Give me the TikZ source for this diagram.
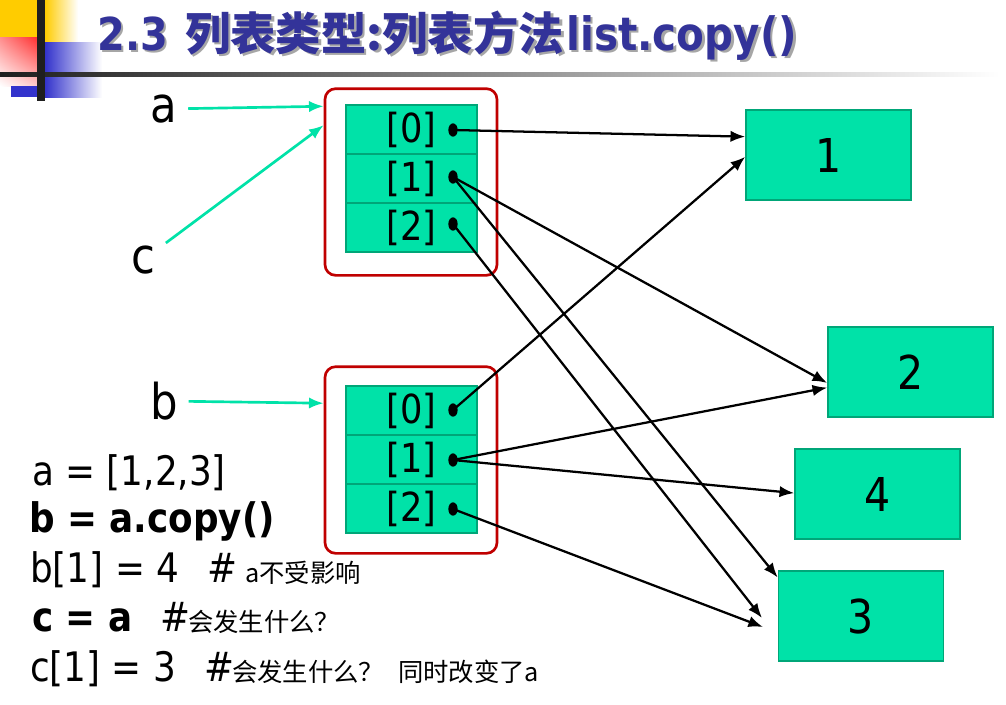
\documentclass[tikz,border=0pt]{standalone}
\usepackage{fontspec}
\setmainfont{DejaVu Sans}[FakeStretch=0.88]
\newfontfamily\cjk{Noto Sans CJK SC}
\usetikzlibrary{shapes.geometric,arrows.meta,calc,shadings}
\definecolor{titleblue}{HTML}{333399}
\definecolor{decoyellow}{HTML}{FFCC00}
\definecolor{decored}{HTML}{FF3030}
\definecolor{decoblue}{HTML}{3333CC}
\definecolor{cellgreen}{HTML}{00E2A8}
\definecolor{cellborder}{HTML}{00A678}
\definecolor{boxred}{HTML}{C00000}
\newcommand{\shadowtext}[1]{\makebox[0pt][l]{\hspace{1.9pt}\raisebox{-1.9pt}{\textcolor{black!35}{#1}}}#1}
\begin{document}
\begin{tikzpicture}[x=0.75pt,y=-0.75pt,
  cell/.style={draw=cellborder, line width=1pt, fill=cellgreen, minimum width=98.25pt, minimum height=36.75pt, inner sep=0pt, font=\fontsize{30}{30}\selectfont},
  listbox/.style={draw=boxred, line width=2pt, rounded corners=8pt, minimum width=129pt, minimum height=140pt, inner sep=0pt},
  valbox/.style={draw=cellborder, line width=1.2pt, fill=cellgreen, minimum width=123.75pt, minimum height=67.5pt, inner sep=0pt, font=\fontsize{35}{35}\selectfont},
  dot/.style={ellipse, fill=black, minimum width=7pt, minimum height=10pt, inner sep=0pt},
  ptr/.style={line width=1.7pt, -{Latex[length=11pt,width=8.5pt]}},
  gptr/.style={draw=cellgreen, line width=2pt, -{Latex[length=11pt,width=8.5pt]}},
  varlab/.style={font=\fontsize{37}{37}\selectfont, inner sep=8pt},
  code/.style={font=\fontsize{30.5}{34}\selectfont, inner sep=0pt, anchor=base west},
  codeb/.style={font=\fontsize{30.5}{34}\selectfont\bfseries, inner sep=0pt, anchor=base west},
  cmt/.style={font=\cjk\fontsize{19}{21}\selectfont, inner sep=0pt, anchor=base west},
  ttl/.style={inner sep=0pt, anchor=base west, text=titleblue}
]
\path[use as bounding box, fill=white] (0,0) rectangle (1006,704);

% decoration
\fill[decoyellow] (0,0) rectangle (37,37);
\shade[left color=decoyellow, right color=white] (45,0) rectangle (78,42);
\shade[upper right=decored, upper left=decored!55!white, lower left=white, lower right=decored!25!white] (0,37) rectangle (37,86);
\shade[left color=decoblue, right color=white] (45,42) rectangle (102,97);
\fill[decoblue] (11,86) rectangle (37,97);
\shade[left color=black!88, right color=white] (0,72) rectangle (1000,76);
\fill[black!88] (37,0) rectangle (45,101);

% title
\node[ttl, font=\fontsize{34}{34}\selectfont\bfseries] (t1) at (97,50) {\shadowtext{2.3}};
\node[ttl, font=\cjk\fontsize{34}{34}\selectfont\bfseries] (t2) at (185,50) {\shadowtext{列表类型:列表方法}};
\node[ttl, font=\fontsize{34.5}{34}\selectfont\bfseries] (t3) at (566,50) {\shadowtext{list.copy()}};

% value boxes
\node[valbox] (v1) at (828.5,155) {1};
\node[valbox] (v2) at (910.5,372) {2};
\node[valbox] (v4) at (877.5,494) {4};
\node[valbox] (v3) at (861,616) {3};

% list a
\node[listbox] (A) at (411,182) {};
\node[cell] (a0) at (411.5,129.5) {[0]};
\node[cell] (a1) at (411.5,178.5) {[1]};
\node[cell] (a2) at (411.5,227.5) {[2]};
\node[dot] (a0d) at (453,130) {};
\node[dot] (a1d) at (453,177) {};
\node[dot] (a2d) at (453,224) {};

% list b
\node[listbox] (B) at (411,460) {};
\node[cell] (b0) at (411.5,410.5) {[0]};
\node[cell] (b1) at (411.5,459.5) {[1]};
\node[cell] (b2) at (411.5,508.5) {[2]};
\node[dot] (b0d) at (453,410) {};
\node[dot] (b1d) at (453,460) {};
\node[dot] (b2d) at (453,509) {};

% variable labels
\node[varlab] (la) at (164,109) {a};
\node[varlab] (lc) at (143,260) {c};
\node[varlab] (lb) at (164,401) {b};

\draw[gptr] (la) -- ($(A.north west)!0.10!(A.south west)$);
\draw[gptr] (lc) -- ($(A.north west)!0.20!(A.south west)$);
\draw[gptr] (lb) -- ($(B.north west)!0.20!(B.south west)$);

% pointers
\coordinate (e1) at (762,618);
\coordinate (e2) at (763,627);
\draw[ptr] (a0d.center) -- ($(v1.north west)!0.30!(v1.south west)$);
\draw[ptr] (a1d.center) -- ($(v2.north west)!0.62!(v2.south west)$);
\draw[ptr] (a1d.center) -- ($(v3.north west)!0.08!(v3.south west)$);
\draw[ptr] (a2d.center) -- (e1);
\draw[ptr] (b0d.center) -- ($(v1.north west)!0.52!(v1.south west)$);
\draw[ptr] (b1d.center) -- ($(v2.north west)!0.67!(v2.south west)$);
\draw[ptr] (b1d.center) -- ($(v4.north west)!0.49!(v4.south west)$);
\draw[ptr] (b2d.center) -- (e2);

% code lines
\node[code] (c1) at (32,485) {a = [1,2,3]};
\node[codeb] (c2) at (29,532) {b = a.copy()};
\node[code] (c3) at (30,582) {b[1] = 4};
\node[code] (c3h) at (207,582) {\#};
\node[cmt] (c3c) at (245,582) {a不受影响};
\node[codeb] (c4) at (32,631) {c = a};
\node[code] (c4h) at (160,631) {\#};
\node[cmt] (c4c) at (188,631) {会发生什么？};
\node[code] (c5) at (30,681) {c[1] = 3};
\node[code] (c5h) at (204,681) {\#};
\node[cmt] (c5c) at (232,681) {会发生什么？};
\node[cmt] (c5d) at (398,681) {同时改变了a};
\end{tikzpicture}
\end{document}
